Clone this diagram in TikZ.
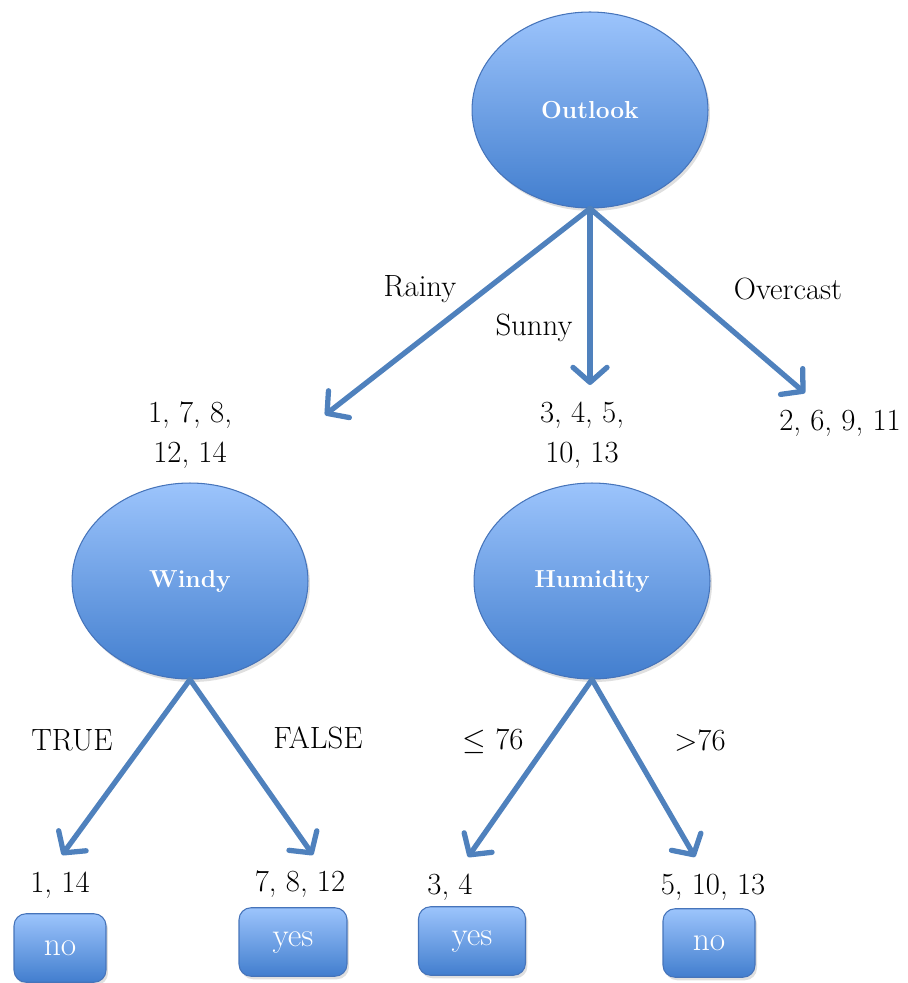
\documentclass[tikz,border=0pt]{standalone}
\usetikzlibrary{shapes.geometric,arrows.meta,shadows}
\definecolor{nodetop}{RGB}{156,196,252}
\definecolor{nodebot}{RGB}{66,126,206}
\definecolor{nodeline}{RGB}{70,116,186}
\definecolor{edgeblue}{RGB}{79,129,189}
\tikzset{
  attr/.style={ellipse, draw=nodeline, line width=0.6pt, top color=nodetop, bottom color=nodebot,
    minimum width=4.72cm, minimum height=3.92cm, text=white, font=\fontsize{14}{17}\selectfont\bfseries,
    drop shadow={opacity=0.25, shadow xshift=0.04cm, shadow yshift=-0.06cm}},
  leaf/.style={rectangle, rounded corners=0.24cm, draw=nodeline, line width=0.6pt, top color=nodetop,
    bottom color=nodebot, minimum height=1.37cm, text=white, font=\fontsize{19}{22}\selectfont,
    drop shadow={opacity=0.25, shadow xshift=0.04cm, shadow yshift=-0.06cm}},
  lbl/.style={font=\fontsize{17.5}{23}\selectfont, align=center, inner sep=0pt},
  arr/.style={draw=edgeblue, line width=3pt, line cap=round,
    -{Straight Barb[length=3mm, width=6.8mm, round]}}
}
\begin{document}
\begin{tikzpicture}[x=0.02cm, y=-0.02cm]
  \useasboundingbox (0,0) rectangle (908,983);
  % decision nodes
  \node (outlook) at (590,110) [attr] {Outlook};
  \node (windy) at (190,581) [attr] {Windy};
  \node (humidity) at (592,581) [attr] {Humidity};
  % arrow ends
  \coordinate (rainyend) at (325,415);
  \coordinate (sunnyend) at (590,385);
  \coordinate (overend) at (805,393);
  \coordinate (trueend) at (62,855);
  \coordinate (falseend) at (313,855);
  \coordinate (leend) at (468,857);
  \coordinate (gtend) at (695,857);
  \foreach \source/\dest in {outlook/rainyend, outlook/sunnyend, outlook/overend, windy/trueend, windy/falseend, humidity/leend, humidity/gtend}
    \draw[arr] (\source.south) -- (\dest);
  % branch labels
  \node (rainy) at (420,289) [lbl] {Rainy};
  \node (sunny) at (534,328) [lbl] {Sunny};
  \node (overcast) at (788,289) [lbl] {Overcast};
  \node (true) at (72,740) [lbl] {TRUE};
  \node (false) at (318,738) [lbl] {FALSE};
  \node (le) at (493,741) [lbl] {$\leq$ 76};
  \node (gt) at (700,740) [lbl] {$>$76};
  % instance sets
  \node (set1) at (190,435) [lbl] {1, 7, 8,\\12, 14};
  \node (set2) at (582,435) [lbl] {3, 4, 5,\\10, 13};
  \node (set3) at (840,423) [lbl] {2, 6, 9, 11};
  \node (set4) at (60,885) [lbl] {1, 14};
  \node (set5) at (300,884) [lbl] {7, 8, 12};
  \node (set6) at (450,887) [lbl] {3, 4};
  \node (set7) at (713,887) [lbl] {5, 10, 13};
  % leaves
  \node (no1) at (60,948) [leaf, minimum width=1.84cm] {no};
  \node (yes1) at (293,942) [leaf, minimum width=2.16cm] {yes};
  \node (yes2) at (472,941) [leaf, minimum width=2.14cm] {yes};
  \node (no2) at (709,943) [leaf, minimum width=1.84cm] {no};
\end{tikzpicture}
\end{document}
